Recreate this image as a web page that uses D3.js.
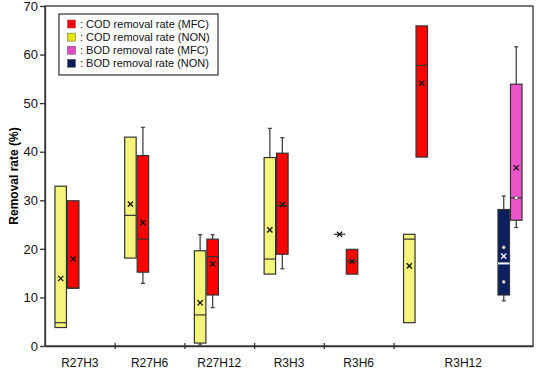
<!DOCTYPE html>
<html>
<head>
<meta charset="utf-8">
<script src="https://cdn.jsdelivr.net/npm/d3@7"></script>
<style>
  body { margin: 0; background: #fff; }
  text { font-family: "Liberation Sans", Arial, sans-serif; }
</style>
</head>
<body>
<div id="chart"></div>
<script>
const groups = ["R27H3", "R27H6", "R27H12", "R3H3", "R3H6", "R3H12"];
const groupSpans = [1, 1, 1, 1, 1, 2];
const yTicks = [0, 10, 20, 30, 40, 50, 60, 70];

// box stats: min, q1, median, q3, max, mean
const codNon = [
  {group: "R27H3",  min: 3.8,  q1: 3.8,  median: 4.8,  q3: 32.9, max: 32.9, mean: 13.9},
  {group: "R27H6",  min: 18.1, q1: 18.1, median: 26.9, q3: 43.0, max: 43.0, mean: 29.2},
  {group: "R27H12", min: 0.2,  q1: 0.6,  median: 6.4,  q3: 19.6, max: 22.9, mean: 8.9},
  {group: "R3H3",   min: 14.8, q1: 14.8, median: 17.9, q3: 38.8, max: 44.8, mean: 23.9},
  {group: "R3H6",   min: 23.0, q1: 23.0, median: 23.0, q3: 23.0, max: 23.0, mean: 23.0},
  {group: "R3H12",  min: 4.8,  q1: 4.8,  median: 22.0, q3: 23.0, max: 23.0, mean: 16.5}
];
const codMfc = [
  {group: "R27H3",  min: 11.9, q1: 11.9, median: 11.9, q3: 29.9, max: 29.9, mean: 17.9},
  {group: "R27H6",  min: 12.9, q1: 15.2, median: 22.0, q3: 39.2, max: 45.0, mean: 25.4},
  {group: "R27H12", min: 7.9,  q1: 10.5, median: 18.4, q3: 22.0, max: 22.9, mean: 16.9},
  {group: "R3H3",   min: 15.9, q1: 18.9, median: 28.9, q3: 39.7, max: 42.9, mean: 29.1},
  {group: "R3H6",   min: 14.8, q1: 14.8, median: 17.4, q3: 19.9, max: 19.9, mean: 17.4},
  {group: "R3H12",  min: 38.9, q1: 38.9, median: 57.8, q3: 65.9, max: 65.9, mean: 54.1}
];
const bodNon = [
  {group: "R3H12", min: 9.3, q1: 10.5, median: 17.0, q3: 28.1, max: 30.9, mean: 18.5}
];
const bodMfc = [
  {group: "R3H12", min: 24.4, q1: 25.9, median: 30.5, q3: 53.9, max: 61.6, mean: 36.7}
];
const bodNonPoints = [20.3, 13.2];
const bodMfcPoints = [30.5];

const legendLabels = [
  ": COD removal rate (MFC)",
  ": COD removal rate (NON)",
  ": BOD removal rate (MFC)",
  ": BOD removal rate (NON)"
];

function PlotBoxes(parent_element) {
  const margin = {top: 6, right: 3, bottom: 25, left: 45};
  const width = 536 - margin.left - margin.right;
  const height = 371 - margin.top - margin.bottom;

  const svg = d3.select("#" + parent_element)
    .append("svg")
      .attr("width", 536)
      .attr("height", 371)
    .append("g")
      .attr("transform", `translate(${margin.left},${margin.top})`);

  const slots = d3.sum(groupSpans);
  const x = d3.scaleLinear().domain([0, slots]).range([0, width]);
  const y = d3.scaleLinear().domain([0, 70]).range([height, 0]);
  const slotStart = d3.cumsum([0].concat(groupSpans));

  // frame
  svg.append("rect")
      .attr("width", width)
      .attr("height", height)
      .attr("fill", "none")
      .attr("stroke", "#333")
      .attr("stroke-width", 1.3);

  const yAxis = svg.append("g")
      .call(d3.axisLeft(y).tickValues(yTicks).tickSizeInner(5).tickSizeOuter(0).tickPadding(2));
  yAxis.selectAll("text").style("font-size", "13px").attr("fill", "#111");
  yAxis.selectAll("line, path").attr("stroke", "#333").attr("stroke-width", 1.3);

  const xAxis = svg.append("g")
      .attr("transform", `translate(0,${height})`)
      .call(d3.axisBottom(x).tickValues(slotStart.slice(1, groups.length)).tickFormat("").tickSizeOuter(0));
  xAxis.selectAll(".tick line").attr("y1", -3).attr("y2", 3);
  xAxis.selectAll("line, path").attr("stroke", "#333").attr("stroke-width", 1.3);

  svg.selectAll(".cat")
    .data(groups)
    .enter()
    .append("text")
      .attr("class", "cat")
      .attr("x", (d, i) => x(slotStart[i] + groupSpans[i] / 2))
      .attr("y", height + 21)
      .attr("text-anchor", "middle")
      .style("font-size", "12px")
      .attr("fill", "#111")
      .text(d => d);

  svg.append("text")
      .attr("transform", `translate(${-27},${height / 2})rotate(-90)`)
      .attr("text-anchor", "middle")
      .style("font-size", "12px")
      .style("font-weight", "bold")
      .text("Removal rate (%)");

  const boxW = 11.5;
  // series: data, fill, pair offset inside slot, side, median colour, mean colour
  const series = [
    {data: codNon, fill: "#f4f47a", slot: 0, pos: 0.315, side: -1, med: "#333", mark: "#111"},
    {data: codMfc, fill: "#ff0000", slot: 0, pos: 0.315, side: 1, med: "#333", mark: "#111"},
    {data: bodNon, fill: "#0c1f5e", slot: 1, pos: 0.67, side: -1, med: "#fff", mark: "#fff"},
    {data: bodMfc, fill: "#ec55c8", slot: 1, pos: 0.67, side: 1, med: "#333", mark: "#111"}
  ];

  function boxCenter(s, d) {
    const gi = groups.indexOf(d.group);
    const c = x(slotStart[gi] + s.slot + s.pos);
    return s.side < 0 ? c - 0.5 - boxW / 2 : c + 0.5 + boxW / 2;
  }

  series.forEach(s => {
    const g = svg.append("g");
    const box = g.selectAll("g")
      .data(s.data)
      .enter()
      .append("g")
        .attr("transform", d => `translate(${boxCenter(s, d)},0)`);

    // whiskers
    box.filter(d => d.max > d.q3).append("line")
        .attr("y1", d => y(d.q3)).attr("y2", d => y(d.max))
        .attr("stroke", "#444").attr("stroke-width", 1.3);
    box.filter(d => d.max > d.q3).append("line")
        .attr("x1", -2).attr("x2", 2)
        .attr("y1", d => y(d.max)).attr("y2", d => y(d.max))
        .attr("stroke", "#444").attr("stroke-width", 1.3);
    box.filter(d => d.min < d.q1).append("line")
        .attr("y1", d => y(d.q1)).attr("y2", d => y(d.min))
        .attr("stroke", "#444").attr("stroke-width", 1.3);
    box.filter(d => d.min < d.q1).append("line")
        .attr("x1", -2).attr("x2", 2)
        .attr("y1", d => y(d.min)).attr("y2", d => y(d.min))
        .attr("stroke", "#444").attr("stroke-width", 1.3);

    box.append("rect")
        .attr("x", -boxW / 2)
        .attr("y", d => y(d.q3))
        .attr("width", boxW)
        .attr("height", d => y(d.q1) - y(d.q3))
        .attr("fill", s.fill)
        .attr("stroke", "#333")
        .attr("stroke-width", 1.2);

    box.append("line")
        .attr("x1", -boxW / 2).attr("x2", boxW / 2)
        .attr("y1", d => y(d.median)).attr("y2", d => y(d.median))
        .attr("stroke", s.med).attr("stroke-width", s.med === "#fff" ? 2 : 1.2);

    // mean marker
    const m = 2.6;
    box.append("path")
        .attr("d", d => `M${-m},${y(d.mean) - m}L${m},${y(d.mean) + m}M${-m},${y(d.mean) + m}L${m},${y(d.mean) - m}`)
        .attr("stroke", s.mark)
        .attr("stroke-width", 1.3)
        .attr("fill", "none");
  });

  // inner points of the BOD boxes
  const pointSets = [
    {values: bodNonPoints, s: series[2]},
    {values: bodMfcPoints, s: series[3]}
  ];
  pointSets.forEach(p => {
    const cx = boxCenter(p.s, p.s.data[0]);
    svg.selectAll(null)
      .data(p.values)
      .enter()
      .append("circle")
        .attr("cx", cx)
        .attr("cy", d => y(d))
        .attr("r", 1.8)
        .attr("fill", "#e8e8e8")
        .attr("stroke", "#555")
        .attr("stroke-width", 0.7);
  });

  // legend
  const legendColors = ["#ff0000", "#e6e600", "#e448c4", "#0a1a55"];
  const legend = svg.append("g").attr("transform", "translate(14,8)");
  legend.append("rect")
      .attr("width", 159)
      .attr("height", 61)
      .attr("fill", "#fff")
      .attr("stroke", "#333")
      .attr("stroke-width", 1.2);
  const item = legend.selectAll(".item")
    .data(legendLabels)
    .enter()
    .append("g")
      .attr("class", "item")
      .attr("transform", (d, i) => `translate(8.5,${10 + i * 13.1})`);
  item.append("rect")
      .attr("y", -4)
      .attr("width", 8)
      .attr("height", 8)
      .attr("fill", (d, i) => legendColors[i])
      .attr("stroke", "#555")
      .attr("stroke-width", 0.5);
  item.append("text")
      .attr("x", 12.5)
      .attr("y", 4)
      .style("font-size", "11px")
      .attr("fill", "#111")
      .text(d => d);
}

document.addEventListener('DOMContentLoaded', (event) => {
  PlotBoxes("chart");
});
</script>
</body>
</html>
